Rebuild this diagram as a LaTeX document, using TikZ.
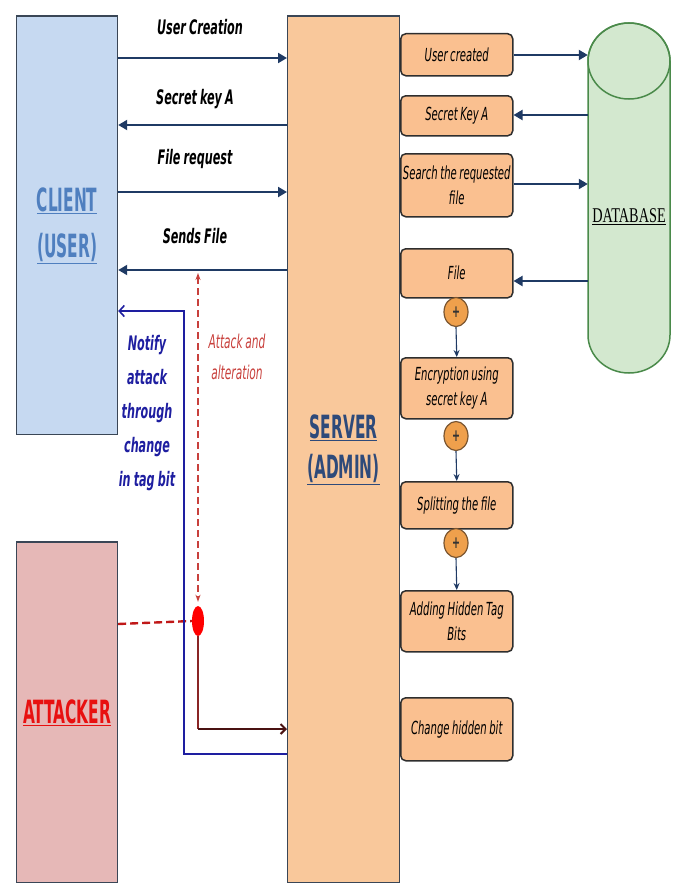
\documentclass[tikz,border=0pt]{standalone}
\usepackage{fontspec}
\setmainfont{DejaVu Sans}[FakeStretch=0.56,WordSpace=0.8]
\newfontfamily\bigf{DejaVu Sans}[FakeStretch=0.48,WordSpace=0.7]
\newfontfamily\dbfont{Liberation Serif}[FakeStretch=0.68]
\usetikzlibrary{arrows.meta,shapes.geometric}
\definecolor{clientf}{HTML}{C6D9F1}
\definecolor{clientt}{HTML}{4F7FBF}
\definecolor{serverf}{HTML}{F9C89B}
\definecolor{servert}{HTML}{2E4A7A}
\definecolor{attf}{HTML}{E6B8B7}
\definecolor{attt}{HTML}{E81010}
\definecolor{bordc}{HTML}{3A4656}
\definecolor{boxf}{HTML}{FAC090}
\definecolor{boxb}{HTML}{2E2E2E}
\definecolor{dbf}{HTML}{D3E8CF}
\definecolor{dbb}{HTML}{4A8A4A}
\definecolor{navy}{HTML}{1F3A64}
\definecolor{plusf}{HTML}{EFA04C}
\definecolor{plusb}{HTML}{7A5530}
\definecolor{notif}{HTML}{1E1EA0}
\definecolor{atkc}{HTML}{C8403C}
\definecolor{attdash}{HTML}{C01818}
\definecolor{brn}{HTML}{8A2525}
\definecolor{brnd}{HTML}{4A1212}
\begin{document}
\begin{tikzpicture}[x=1pt,y=-1pt,
  bigbox/.style={draw=bordc, line width=1.2pt, inner sep=0pt, anchor=north west, align=center},
  topedge/.style={draw=bordc, line width=2.6pt},
  pbox/.style={draw=boxb, fill=boxf, rounded corners=5pt, line width=1.5pt, inner sep=1pt,
    minimum width=112pt, align=center, anchor=north west, font=\fontsize{18}{25}\selectfont\itshape, text=black},
  arr/.style={draw=navy, line width=2pt, -{Triangle[length=9pt,width=10pt]}},
  darr/.style={draw=navy, line width=1.1pt, -{Stealth[length=7pt,width=6pt]}},
  lbl/.style={font=\fontsize{20}{24}\selectfont\bfseries\itshape, text=black, inner sep=1pt},
  plusc/.style={ellipse, draw=plusb, fill=plusf, line width=1.2pt, minimum width=24pt,
    minimum height=29pt, inner sep=0pt, font=\fontsize{17}{17}\selectfont\bfseries, text=black!80}
]
\useasboundingbox (0,0) rectangle (678,883);

% main boxes
\node[bigbox, fill=clientf, minimum width=101pt, minimum height=418pt, text=clientt,
  font=\bigf\fontsize{32}{46}\selectfont\bfseries] (client) at (16,16) {\underline{CLIENT}\\\underline{(USER)}};
\draw[topedge] (client.north west) -- (client.north east);
\node[bigbox, fill=serverf, minimum width=112pt, minimum height=866pt, text=servert,
  font=\bigf\fontsize{32}{40}\selectfont\bfseries] (server) at (287,16) {\underline{SERVER}\\\underline{(ADMIN)}};
\draw[topedge] (server.north west) -- (server.north east);
\node[bigbox, fill=attf, minimum width=101pt, minimum height=340pt, text=attt,
  font=\bigf\fontsize{32}{34}\selectfont\bfseries] (attacker) at (16,542) {\underline{ATTACKER}};
\draw[topedge] (attacker.north west) -- (attacker.north east);

% database cylinder
\filldraw[fill=dbf, draw=dbb, line width=1.5pt]
  (588,61) -- (588,335) arc[start angle=180, end angle=0, x radius=41, y radius=38]
  -- (670,61) arc[start angle=0, end angle=-180, x radius=41, y radius=38] -- cycle;
\draw[dbb, line width=1.5pt] (629,61) ellipse[x radius=41, y radius=38];
\node[minimum width=82pt, minimum height=350pt, inner sep=0pt] (db) at (629,198) {};
\node[font=\dbfont\fontsize{21}{24}\selectfont, text=black] (dbl) at (629,217) {\underline{DATABASE}};

% server step boxes
\node[pbox, minimum height=42pt] (ucr) at (400,33) {User created};
\node[pbox, minimum height=40pt] (skey) at (400,95) {Secret Key A};
\node[pbox, minimum height=63pt] (srch) at (400,153) {Search the requested\\file};
\node[pbox, minimum height=49pt] (file) at (400,248) {File};
\node[pbox, minimum height=61pt] (enc) at (400,357) {Encryption using\\secret key A};
\node[pbox, minimum height=47pt] (split) at (400,481) {Splitting the file};
\node[pbox, minimum height=61pt] (add) at (400,590) {Adding Hidden Tag\\Bits};
\node[pbox, minimum height=63pt] (chg) at (400,697) {Change hidden bit};

\node[plusc] (p1) at (456,312) {+};
\node[plusc] (p2) at (456,436) {+};
\node[plusc] (p3) at (456,543) {+};
\draw[darr] (p1.south) -- (enc.north);
\draw[darr] (p2.south) -- (split.north);
\draw[darr] (p3.south) -- (add.north);

% database arrows
\draw[arr] (ucr.east |- 0,55) -- (db.west |- 0,55);
\draw[arr] (db.west |- 0,115) -- (skey.east |- 0,115);
\draw[arr] (srch.east |- 0,184) -- (db.west |- 0,184);
\draw[arr] (db.west |- 0,281) -- (file.east |- 0,281);

% client/server arrows
\draw[arr] (client.east |- 0,58) -- (server.west |- 0,58);
\draw[arr] (server.west |- 0,125) -- (client.east |- 0,125);
\draw[arr] (client.east |- 0,192) -- (server.west |- 0,192);
\draw[arr] (server.west |- 0,270) -- (client.east |- 0,270);
\node[lbl] (l1) at (200,27) {User Creation};
\node[lbl] (l2) at (195,99) {Secret key A};
\node[lbl] (l3) at (195,159) {File request};
\node[lbl] (l4) at (195,236) {Sends File};

% attack
\node[ellipse, fill=red, minimum width=12pt, minimum height=30pt, inner sep=0pt] (dot) at (198,621) {};
\coordinate (atk) at (198,273);
\draw[atkc, line width=1.2pt, dash pattern=on 7pt off 4pt,
  {Stealth[length=7pt,width=5pt]}-{Stealth[length=7pt,width=5pt]}] (atk) -- ([yshift=4pt]dot.north);
\draw[attdash, line width=2.4pt, dash pattern=on 8pt off 4pt] (attacker.east |- 0,624) -- (dot.west);
\draw[brn, line width=1.1pt] (dot.south) -- (dot.south |- 0,729);
\draw[brnd, line width=2pt, -{Straight Barb[length=5pt,width=10pt]}] (dot.south |- 0,729) -- (server.west |- 0,729);
\draw[notif, line width=1.6pt, -{Straight Barb[length=5pt,width=11pt]}]
  (server.west |- 0,754) -| (184,311) -- (client.east |- 0,311);

\node[font=\fontsize{19}{31}\selectfont\itshape, text=atkc, align=center] (atl) at (237,357) {Attack and\\alteration};
\node[font=\fontsize{20}{34}\selectfont\bfseries\itshape, text=notif, align=center] (ntl) at (147,413)
  {Notify\\attack\\through\\change\\in tag bit};
\end{tikzpicture}
\end{document}
